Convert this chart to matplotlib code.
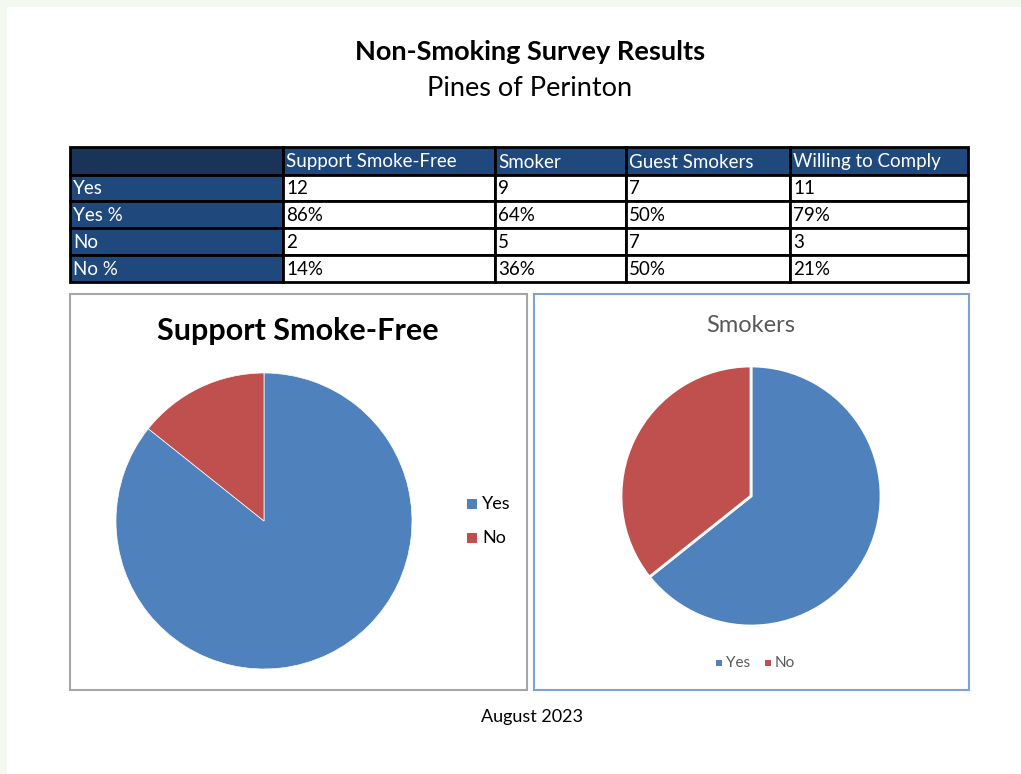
import matplotlib
matplotlib.use("Agg")
import matplotlib.pyplot as plt
from matplotlib.patches import Rectangle

plt.rcParams['font.family'] = ['Lato', 'DejaVu Sans']

# data
columns = ['Support Smoke-Free', 'Smoker', 'Guest Smokers', 'Willing to Comply']
row_labels = ['Yes', 'Yes %', 'No', 'No %']
yes_counts = [12, 9, 7, 11]
no_counts = [2, 5, 7, 3]
yes_pct = ['86%', '64%', '50%', '79%']
no_pct = ['14%', '36%', '50%', '21%']
pie_labels = ['Yes', 'No']
smokers_counts = [9, 5]

BLUE = '#4f81bd'
RED = '#c0504d'
NAVY = '#1f497d'

W, H = 1021, 774
fig = plt.figure(figsize=(W / 100, H / 100), dpi=100)
fig.patch.set_facecolor('#f3f9ef')

# page overlay in pixel coords
page = fig.add_axes([0, 0, 1, 1])
page.set_xlim(0, W)
page.set_ylim(H, 0)
page.axis('off')
page.add_patch(Rectangle((7, 7), W, H, facecolor='white', edgecolor='none'))

page.text(530, 52, 'Non-Smoking Survey Results', ha='center', va='center',
          fontsize=19.5, fontweight='bold')
page.text(530, 89, 'Pines of Perinton', ha='center', va='center', fontsize=19.5)
page.text(532, 717, 'August 2023', ha='center', va='center', fontsize=13)

# table
col_x = [70, 283, 495, 626, 790, 968]
row_y = [147, 175, 201, 228, 255, 282]
cells = [yes_counts, yes_pct, no_counts, no_pct]
for r in range(5):
    for c in range(5):
        x0, x1 = col_x[c], col_x[c + 1]
        y0, y1 = row_y[r], row_y[r + 1]
        if r == 0 and c == 0:
            fc, tc, txt = '#1a3358', 'white', ''
        elif r == 0:
            fc, tc, txt = NAVY, 'white', columns[c - 1]
        elif c == 0:
            fc, tc, txt = NAVY, 'white', row_labels[r - 1]
        else:
            fc, tc, txt = 'white', 'black', str(cells[r - 1][c - 1])
        page.add_patch(Rectangle((x0, y0), x1 - x0, y1 - y0, facecolor=fc,
                                 edgecolor='black', linewidth=2))
        page.text(x0 + 3, (y0 + y1) / 2 + 1, txt, ha='left', va='center',
                  fontsize=13.5, color=tc)

# chart boxes
page.add_patch(Rectangle((70, 294), 457, 396, facecolor='none',
                         edgecolor='#a6a6a6', linewidth=1.5))
page.add_patch(Rectangle((534, 294), 435, 396, facecolor='none',
                         edgecolor='#7da2d4', linewidth=1.5))

page.text(298, 331, 'Support Smoke-Free', ha='center', va='center',
          fontsize=22, fontweight='bold')
page.text(751, 325, 'Smokers', ha='center', va='center', fontsize=17,
          color='#595959')


def px_axes(cx, cy, r):
    return fig.add_axes([(cx - r) / W, 1 - (cy + r) / H, 2 * r / W, 2 * r / H])


ax1 = px_axes(264, 521, 148)
ax1.pie([yes_counts[0], no_counts[0]], colors=[BLUE, RED], startangle=90,
        counterclock=False, radius=1,
        wedgeprops=dict(edgecolor='white', linewidth=0.5))
ax1.set_xlim(-1, 1)
ax1.set_ylim(-1, 1)

ax2 = px_axes(751, 496, 130)
ax2.pie(smokers_counts, colors=[BLUE, RED], startangle=90,
        counterclock=False, radius=1,
        wedgeprops=dict(edgecolor='white', linewidth=2))
ax2.set_xlim(-1, 1)
ax2.set_ylim(-1, 1)

# legends
for i, (lab, col) in enumerate(zip(pie_labels, [BLUE, RED])):
    y = 504 + i * 34
    page.add_patch(Rectangle((467, y - 5), 10, 10, facecolor=col, edgecolor='none'))
    page.text(482, y, lab, ha='left', va='center', fontsize=13)

leg_x = [716, 765]
for lab, col, x in zip(pie_labels, [BLUE, RED], leg_x):
    page.add_patch(Rectangle((x, 660), 6, 6, facecolor=col, edgecolor='none'))
    page.text(x + 10, 663, lab, ha='left', va='center', fontsize=11,
              color='#595959')

fig.savefig('out.png', dpi=100)
